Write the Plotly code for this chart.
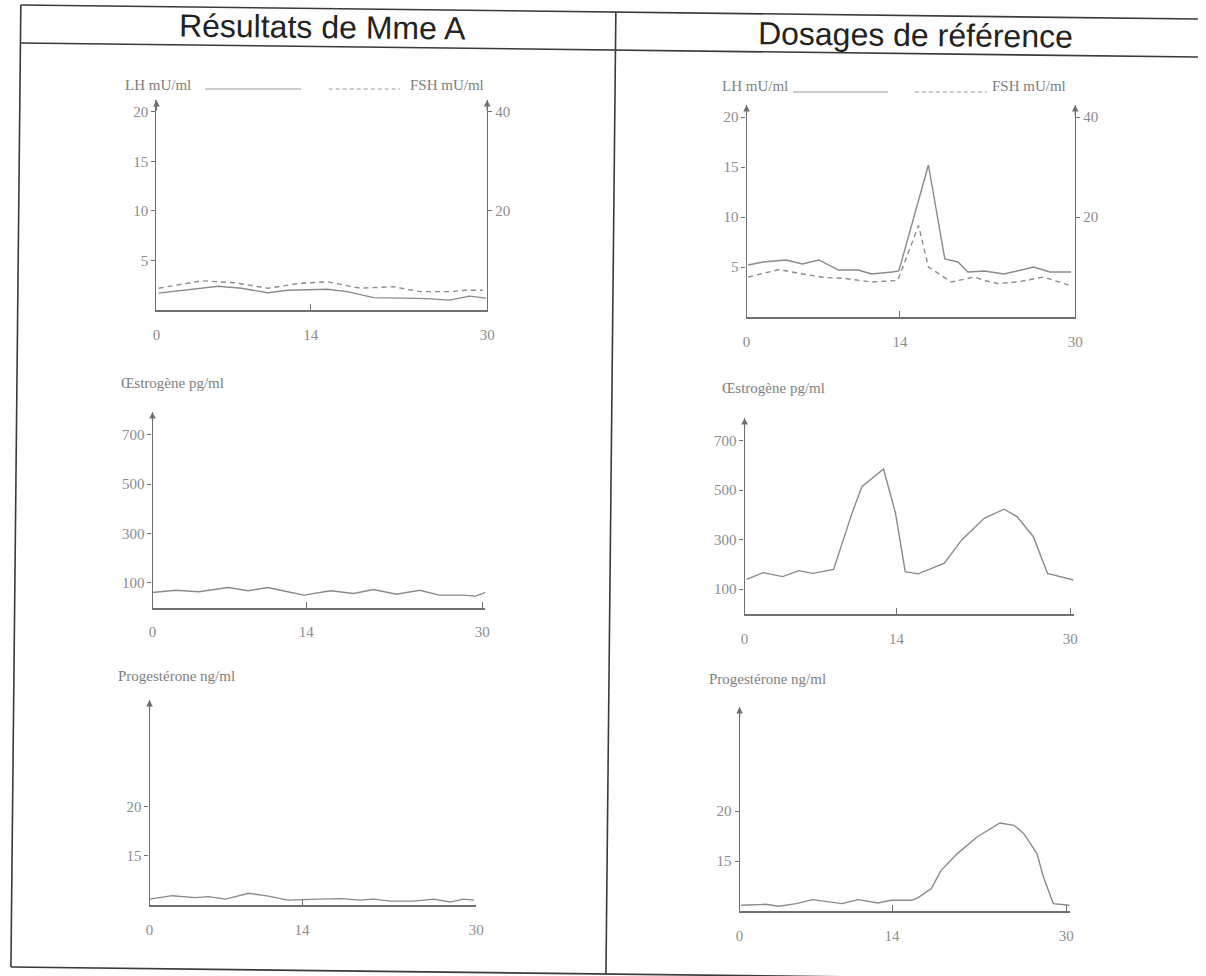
import plotly.graph_objects as go

# ---------------- data ----------------
x_ticks = [0, 14, 30]
x_tick_text = ["0", "14", "30"]

# Mme A - LH (mU/ml, left axis) and FSH (mU/ml, right axis)
lh_a_days = [0.2, 2.6, 5.6, 7.7, 10.1, 11.9, 15.5, 17.3, 19.7, 22.1, 24.5, 26.6, 28.4, 29.9]
lh_a_vals = [1.7, 2.0, 2.4, 2.2, 1.75, 2.0, 2.1, 1.85, 1.25, 1.2, 1.15, 1.0, 1.4, 1.2]
fsh_a_days = [0.2, 4.1, 7.1, 10.1, 13.1, 15.5, 18.5, 21.5, 23.9, 26.6, 28.1, 29.6]
fsh_a_vals = [4.4, 5.9, 5.5, 4.4, 5.4, 5.7, 4.4, 4.7, 3.7, 3.7, 4.0, 4.0]

# Reference - LH and FSH
lh_r_days = [0.15, 1.5, 3.6, 5.1, 6.6, 8.4, 10.2, 11.4, 13.3, 13.9, 16.6, 18.1, 19.3, 20.2, 21.7, 23.5, 26.2, 27.7, 29.6]
lh_r_vals = [5.2, 5.5, 5.7, 5.3, 5.7, 4.7, 4.7, 4.3, 4.5, 4.6, 15.2, 5.8, 5.5, 4.5, 4.6, 4.3, 5.0, 4.5, 4.5]
fsh_r_days = [0.15, 3.0, 4.8, 7.2, 9.0, 11.4, 13.8, 15.7, 16.6, 18.7, 20.8, 21.7, 22.9, 24.7, 27.1, 29.5]
fsh_r_vals = [8.0, 9.5, 8.7, 7.9, 7.7, 7.0, 7.3, 18.3, 10.0, 7.0, 8.0, 7.3, 6.7, 7.0, 8.0, 6.3]

# Oestrogen (pg/ml)
oe_a_days = [0, 2.1, 4.2, 6.0, 6.9, 8.7, 10.5, 12.3, 13.8, 16.2, 18.3, 20.1, 22.2, 24.3, 26.1, 28.2, 29.4, 30.3]
oe_a_vals = [61, 70, 64, 77, 81, 68, 81, 64, 50, 68, 57, 73, 54, 70, 50, 50, 46, 61]
oe_r_days = [0.2, 1.7, 3.5, 5.0, 6.3, 8.2, 9.9, 10.8, 12.8, 13.9, 14.8, 16.0, 18.4, 20.0, 22.1, 23.9, 25.1, 26.6, 27.9, 29.1, 30.3]
oe_r_vals = [140, 167, 151, 175, 164, 180, 407, 514, 585, 407, 171, 162, 205, 299, 387, 423, 393, 312, 164, 151, 137]

# Progesterone (ng/ml)
pg_a_days = [0, 2.1, 4.2, 5.4, 7.0, 9.1, 10.9, 12.7, 15.5, 17.6, 19.4, 20.6, 22.1, 24.2, 26.1, 27.6, 28.8, 29.8]
pg_a_vals = [10.6, 10.95, 10.75, 10.85, 10.6, 11.2, 10.9, 10.5, 10.6, 10.65, 10.5, 10.6, 10.4, 10.4, 10.6, 10.3, 10.6, 10.5]
pg_r_days = [0.15, 2.4, 3.6, 5.2, 6.7, 7.9, 9.4, 10.9, 12.7, 13.9, 15.8, 16.4, 17.6, 18.5, 20.0, 21.8, 23.9, 25.2, 26.1, 27.3, 27.9, 28.8, 30.3]
pg_r_vals = [10.57, 10.67, 10.47, 10.74, 11.14, 10.94, 10.74, 11.14, 10.8, 11.07, 11.07, 11.34, 12.24, 14.07, 15.74, 17.4, 18.8, 18.57, 17.74, 15.74, 13.4, 10.74, 10.57]

col_titles = ["Résultats de Mme A", "Dosages de référence"]
lh_label = "LH mU/ml"
fsh_label = "FSH mU/ml"
oe_label = "Œstrogène pg/ml"
pg_label = "Progestérone ng/ml"

# ---------------- styling / layout helpers ----------------
W, H = 1206, 976
def fx(p):
    return p / W
def fy(p):
    return 1 - p / H

LINE_COL = "#8a8a8a"
AXIS_COL = "#707070"
TXT_COL = "#8c8c8c"
SERIF = "Liberation Serif"
TICKFONT = dict(family=SERIF, size=15, color=TXT_COL)

fig = go.Figure()

def add_line(x, y, xa, ya, dash=None):
    fig.add_trace(go.Scatter(
        x=x, y=y, mode="lines", xaxis=xa, yaxis=ya, showlegend=False,
        line=dict(color=LINE_COL, width=1.4, dash=dash), hoverinfo="skip"))

add_line(lh_a_days, lh_a_vals, "x", "y")
add_line(fsh_a_days, fsh_a_vals, "x", "y2", dash="5px,4px")
add_line(lh_r_days, lh_r_vals, "x2", "y3")
add_line(fsh_r_days, fsh_r_vals, "x2", "y4", dash="5px,4px")
add_line(oe_a_days, oe_a_vals, "x3", "y5")
add_line(oe_r_days, oe_r_vals, "x4", "y6")
add_line(pg_a_days, pg_a_vals, "x5", "y7")
add_line(pg_r_days, pg_r_vals, "x6", "y8")

# panel geometry in pixels: (x at day 0, x at day 30, xmax, y top, y bottom)
panels = {
    1: (154, 488, 30.0, 100, 310),
    2: (750, 1082, 30.0, 105, 317),
    3: (150, 483, 30.3, 412, 607.5),
    4: (748, 1077, 30.3, 418, 614),
    5: (147, 477, 30.0, 700, 905),
    6: (743, 1073, 30.3, 707, 911),
}
yranges = {1: [0, 21.2], 2: [0, 21.2], 3: [0, 792], 4: [0, 791], 5: [10, 30.9], 6: [10, 30.4]}
yticks = {1: [5, 10, 15, 20], 2: [5, 10, 15, 20], 3: [100, 300, 500, 700], 4: [100, 300, 500, 700],
          5: [15, 20], 6: [15, 20]}
yaxis_ids = {1: "y", 2: "y3", 3: "y5", 4: "y6", 5: "y7", 6: "y8"}

layout = dict(width=W, height=H, margin=dict(l=0, r=0, t=0, b=0),
              paper_bgcolor="white", plot_bgcolor="white", showlegend=False)
annotations = []
shapes = []

for i, (x0, x30, xmax, ytop, ybot) in panels.items():
    xend = x0 + (x30 - x0) * xmax / 30.0
    xname = "xaxis" if i == 1 else f"xaxis{i}"
    yid = yaxis_ids[i]
    yname = "yaxis" if yid == "y" else "yaxis" + yid[1:]
    layout[xname] = dict(domain=[fx(x0), fx(xend)], range=[0, xmax], anchor=yid,
                         showline=True, linecolor=AXIS_COL, linewidth=1.6, showgrid=False,
                         zeroline=False, tickvals=x_ticks, ticktext=x_tick_text,
                         ticks="inside", ticklen=6, tickcolor=AXIS_COL,
                         tickfont=TICKFONT, ticklabelstandoff=10, fixedrange=True)
    xref = "x" if i == 1 else f"x{i}"
    layout[yname] = dict(domain=[fy(ybot), fy(ytop)], range=yranges[i], anchor=xref,
                         showline=True, linecolor=AXIS_COL, linewidth=1.2, showgrid=False,
                         zeroline=False, tickvals=yticks[i], ticks="outside", ticklen=4,
                         tickcolor=AXIS_COL, tickfont=TICKFONT, fixedrange=True)
    # arrow head at the top of the y axis
    annotations.append(dict(x=0, y=yranges[i][1], xref=xref, yref=yid, text="",
                            showarrow=True, arrowhead=2, arrowsize=1.1, arrowwidth=1.2,
                            arrowcolor=AXIS_COL, ax=0, ay=12))

# secondary FSH axes (right side)
for yname, over, xa in [("yaxis2", "y", "x"), ("yaxis4", "y3", "x2")]:
    base = "yaxis" if over == "y" else "yaxis" + over[1:]
    layout[yname] = dict(domain=layout[base]["domain"], range=[0, 42.4], overlaying=over,
                         anchor=xa, side="right", showline=True, linecolor=AXIS_COL,
                         linewidth=1.2, showgrid=False, zeroline=False, tickvals=[20, 40],
                         ticks="outside", ticklen=4, tickcolor=AXIS_COL, tickfont=TICKFONT,
                         fixedrange=True)
for xa, ya in [("x", "y2"), ("x2", "y4")]:
    annotations.append(dict(x=30, y=42.4, xref=xa, yref=ya, text="", showarrow=True,
                            arrowhead=2, arrowsize=1.1, arrowwidth=1.2, arrowcolor=AXIS_COL,
                            ax=0, ay=12))

LABFONT = dict(family=SERIF, size=15, color="#7e7e7e")

def label(text, px, py):
    annotations.append(dict(x=fx(px), y=fy(py), xref="paper", yref="paper", text=text,
                            showarrow=False, xanchor="left", yanchor="middle", font=LABFONT))

# LH / FSH legend rows
label(lh_label, 120, 85)
label(fsh_label, 408, 85)
label(lh_label, 723, 86)
label(fsh_label, 996, 86)
for (xa, xb, yy, dash) in [(203, 300, 89, "solid"), (328, 400, 89, "4px,3px"),
                           (797, 893, 92, "solid"), (920, 993, 92, "4px,3px")]:
    shapes.append(dict(type="line", xref="paper", yref="paper", x0=fx(xa), x1=fx(xb),
                       y0=fy(yy), y1=fy(yy), line=dict(color="#9a9a9a", width=1.2, dash=dash)))

label(oe_label, 116, 383)
label(oe_label, 723, 388)
label(pg_label, 113, 676)
label(pg_label, 710, 679)

# column titles
TITLEFONT = dict(family="Liberation Sans", size=32, color="#222222")
annotations.append(dict(x=fx(322), y=fy(27), xref="paper", yref="paper", text=col_titles[0],
                        showarrow=False, textangle=0.6, xanchor="center", yanchor="middle",
                        font=TITLEFONT))
annotations.append(dict(x=fx(921), y=fy(35), xref="paper", yref="paper", text=col_titles[1],
                        showarrow=False, textangle=0.6, xanchor="center", yanchor="middle",
                        font=TITLEFONT))

# table borders (slightly rotated scan)
TAB = dict(color="#3a3a3a", width=1.6)
def seg(xa, ya, xb, yb):
    shapes.append(dict(type="line", xref="paper", yref="paper", x0=fx(xa), y0=fy(ya),
                       x1=fx(xb), y1=fy(yb), line=TAB))
seg(17, 5, 1206, 19)        # top
seg(17, 43, 1206, 57)       # header separator
seg(17, 5, 7, 967)          # left
seg(7, 967, 1206, 981)      # bottom
seg(618, 12, 608, 974)      # middle divider

layout["annotations"] = annotations
layout["shapes"] = shapes
fig.update_layout(**layout)

fig.write_html("out.html", config={"displayModeBar": False},
               post_script="document.body.style.margin='0';document.body.style.overflow='hidden';")
